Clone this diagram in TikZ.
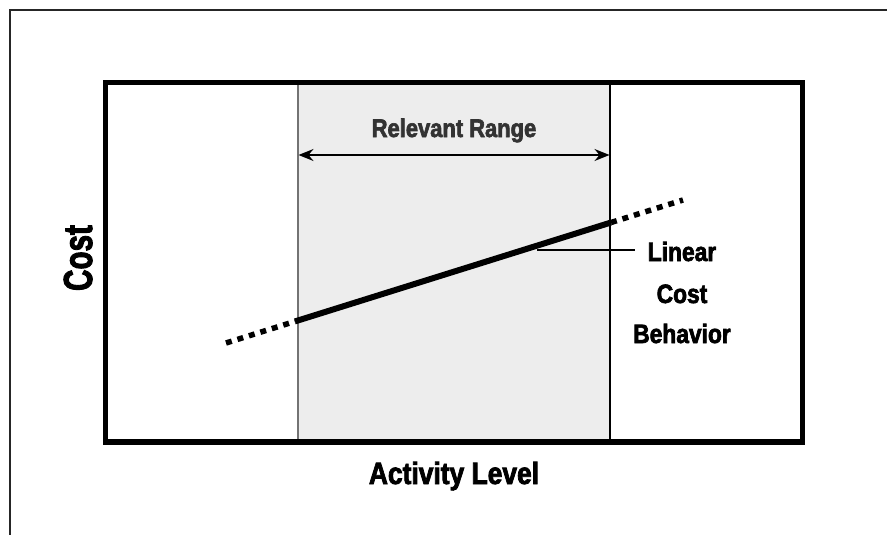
\documentclass[tikz,border=0pt]{standalone}
\usepackage{fontspec}
\setmainfont{Liberation Sans}[FakeStretch=0.86,FakeBold=2.5]
\usetikzlibrary{arrows.meta}
\tikzset{
  lbl/.style={font=\bfseries, inner sep=0pt, anchor=base},
  thickbox/.style={line width=5.5pt, draw=black},
  thinframe/.style={line width=1.5pt, draw=black!85},
  costline/.style={line width=6pt, draw=black},
  dotline/.style={line width=5.5pt, draw=black, dash pattern=on 6pt off 6pt},
  leader/.style={line width=1.3pt, draw=black},
  rangearrow/.style={line width=1.6pt, {Stealth[length=15pt,width=12pt,inset=5pt]}-{Stealth[length=15pt,width=12pt,inset=5pt]}},
}
\begin{document}
\begin{tikzpicture}[x=1pt,y=-1pt]
\useasboundingbox (0,0) rectangle (887,535);
% outer frame
\coordinate (fbl) at (10,540);
\coordinate (ftl) at (10,10);
\coordinate (ftr) at (892,10);
\draw[thinframe] (fbl) -- (ftl) -- (ftr);
% relevant range shading
\coordinate (rtl) at (298,82.5);
\coordinate (rbr) at (610,442);
\fill[black!7] (rtl) rectangle (rbr);
\draw[line width=1.5pt, black!55] (298,82.5) -- (298,442);
\draw[line width=1.5pt, black] (610,82.5) -- (610,442);
% inner box
\coordinate (btl) at (105.5,82.5);
\coordinate (bbr) at (802.5,442);
\draw[thickbox] (btl) rectangle (bbr);
% range arrow and label
\coordinate (al) at (298.5,155);
\coordinate (ar) at (609.5,155);
\draw[rangearrow] (al) -- (ar);
\node[lbl, font=\bfseries\fontsize{25.5}{30}\selectfont, text=black!80] (rr) at (454,137) {Relevant Range};
% cost line
\coordinate (d0) at (226,343);
\coordinate (s0) at (295,321.4);
\coordinate (s1) at (611,222.5);
\coordinate (d1) at (683,200);
\draw[dotline] (d0) -- (s0);
\draw[costline] (s0) -- (s1);
\draw[dotline] (s1) -- (d1);
% leader
\coordinate (lp) at (537,250);
\coordinate (lq) at (635,250);
\draw[leader] (lp) -- (lq);
\node[lbl, font=\bfseries\fontsize{26.5}{30}\selectfont] (l1) at (682,261) {Linear};
\node[lbl, font=\bfseries\fontsize{26.5}{30}\selectfont] (l2) at (682,303) {Cost};
\node[lbl, font=\bfseries\fontsize{26.5}{30}\selectfont] (l3) at (682,343) {Behavior};
% axis labels
\node[lbl, font=\bfseries\fontsize{30.7}{34}\selectfont] (xl) at (454,484) {Activity Level};
\node[lbl, rotate=90, font=\bfseries\fontsize{40.5}{44}\selectfont] (yl) at (92,258) {\scalebox{0.85}[1]{Cost}};
\end{tikzpicture}
\end{document}
